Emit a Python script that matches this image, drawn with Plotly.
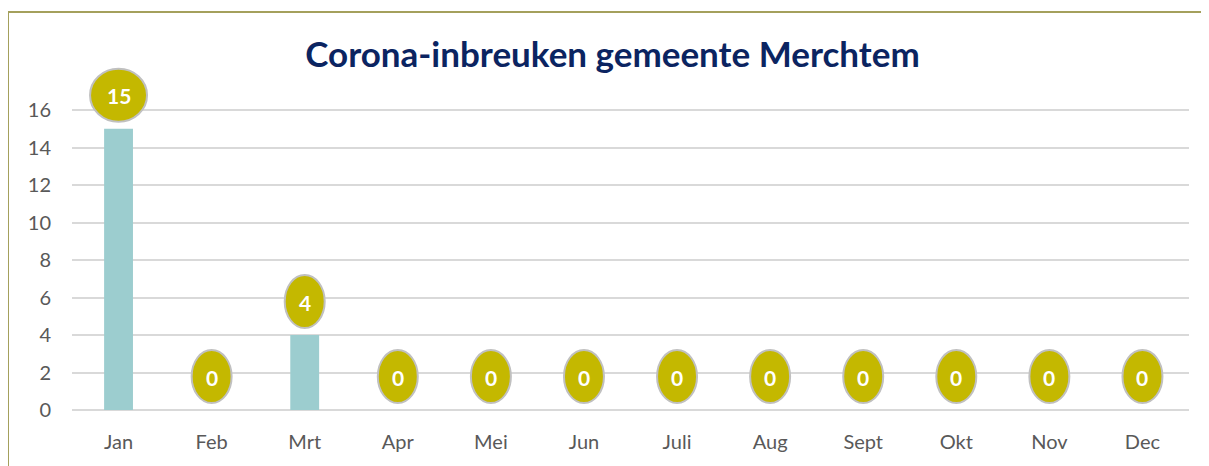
import plotly.graph_objects as go

# data
months = ["Jan", "Feb", "Mrt", "Apr", "Mei", "Jun", "Juli", "Aug", "Sept", "Okt", "Nov", "Dec"]
inbreuken = [15, 0, 4, 0, 0, 0, 0, 0, 0, 0, 0, 0]
y_ticks = [0, 2, 4, 6, 8, 10, 12, 14, 16]

BAR_COLOR = "#9ccdcf"
BUBBLE_COLOR = "#c4b800"
TITLE_COLOR = "#0b2461"
TEXT_COLOR = "#595959"
FONT = "Lato"

fig = go.Figure()

fig.add_trace(go.Bar(
    x=months,
    y=inbreuken,
    marker=dict(color=BAR_COLOR, line=dict(width=0)),
    width=0.31,
    hoverinfo="x+y",
    showlegend=False
))

# bolletjes met de waarden boven elke staaf
shapes = []
annotations = []
for m, v in zip(months, inbreuken):
    label = str(v)
    half_w = 20 + 8.5 * (len(label) - 1)
    shapes.append(dict(
        type="circle",
        xref="x", yref="y",
        xsizemode="pixel", ysizemode="pixel",
        xanchor=m, yanchor=v,
        x0=-half_w, x1=half_w,
        y0=7, y1=60,
        fillcolor=BUBBLE_COLOR,
        line=dict(color="#c0c0c0", width=2),
        layer="above"
    ))
    annotations.append(dict(
        x=m, y=v, xref="x", yref="y",
        text="<b>%s</b>" % label,
        showarrow=False,
        yshift=33,
        font=dict(family=FONT, size=21, color="white")
    ))

# kader rond de grafiek
shapes.append(dict(
    type="rect", xref="paper", yref="paper",
    x0=-0.0573, x1=1.2, y0=-0.5, y1=1.1056,
    line=dict(color="#a4a05c", width=2),
    fillcolor="rgba(0,0,0,0)",
    layer="below"
))

fig.update_layout(
    width=1209,
    height=466,
    margin=dict(l=64, r=28, t=42, b=64),
    paper_bgcolor="white",
    plot_bgcolor="white",
    title=dict(
        text="<b>Corona-inbreuken gemeente Merchtem</b>",
        x=0.5, xanchor="center",
        y=1 - 47 / 466, yanchor="middle", yref="container",
        font=dict(family=FONT, size=35, color=TITLE_COLOR)
    ),
    xaxis=dict(
        showline=False,
        showgrid=False,
        ticks="",
        ticklabelstandoff=18,
        tickfont=dict(family=FONT, size=20, color=TEXT_COLOR)
    ),
    yaxis=dict(
        range=[0, 19.2],
        tickvals=y_ticks,
        showgrid=True,
        gridcolor="#d9d9d9",
        gridwidth=1.5,
        zeroline=True,
        zerolinecolor="#d9d9d9",
        zerolinewidth=1.5,
        showline=False,
        ticks="",
        ticklabelstandoff=20,
        tickfont=dict(family=FONT, size=20, color=TEXT_COLOR)
    ),
    shapes=shapes,
    annotations=annotations,
    bargap=0.69
)

fig.write_html("out.html")
